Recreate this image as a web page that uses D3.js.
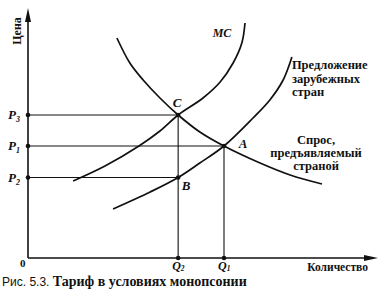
<!DOCTYPE html>
<html><head><meta charset="utf-8">
<script src="https://cdn.jsdelivr.net/npm/d3@7"></script>
<style>
html,body{margin:0;padding:0;background:#fff;}
svg{display:block;}
</style></head>
<body>
<svg id="chart" width="380" height="293"></svg>
<script>
// ---- data (abstract units: quantity on x, price on y) ----
const mcCurve = [[1.29,3.08],[2.2,3.68],[3.17,4.48],[3.77,5.08],[4.29,5.72],[5.0,6.4],[5.49,7.04],[5.86,7.8],[6.11,8.6],[6.2,9.4]];
const foreignSupply = [[2.43,1.96],[3.49,2.64],[4.29,3.22],[4.91,3.8],[5.6,4.48],[6.43,5.6],[6.91,6.32],[7.29,7.12],[7.54,8.04]];
const domesticDemand = [[2.54,8.8],[2.91,7.8],[3.29,7.12],[3.77,6.4],[4.29,5.72],[4.91,5.04],[5.6,4.48],[6.63,3.8],[7.49,3.32],[8.4,2.96]];
const priceLevels = [{label:"P",sub:"3",p:5.72},{label:"P",sub:"1",p:4.48},{label:"P",sub:"2",p:3.22}];
const quantityLevels = [{label:"Q",sub:"2",q:4.29},{label:"Q",sub:"1",q:5.6}];
const keyPoints = [{name:"C",q:4.29,p:5.72},{name:"A",q:5.6,p:4.48},{name:"B",q:4.29,p:3.22}];
const axisTitles = {y:"Цена", x:"Количество"};
const curveLabels = {mc:"MC", supply:["Предложение","зарубежных","стран"], demand:["Спрос,","предъявляемый","страной"]};
const captionParts = ["Рис. 5.3. ","Тариф в условиях монопсонии"];

// ---- layout ----
const svg = d3.select("#chart");
const x = d3.scaleLinear().domain([0,10]).range([28,378]);
const y = d3.scaleLinear().domain([0,10]).range([258,8]);
const ink = "#111";
const serif = "Liberation Serif";

svg.append("rect").attr("width",380).attr("height",293).attr("fill","#fff");

// axes
svg.append("line").attr("x1",x(0)).attr("y1",y(0)).attr("x2",x(0)).attr("y2",y(0)-240)
  .attr("stroke",ink).attr("stroke-width",1.6);
svg.append("line").attr("x1",x(0)).attr("y1",y(0)).attr("x2",x(0)+340).attr("y2",y(0))
  .attr("stroke",ink).attr("stroke-width",1.6);
const ax = x(0), ay = y(0);
svg.append("path").attr("d",`M${ax},${ay-250} L${ax-3},${ay-236} L${ax+3},${ay-236} Z`).attr("fill",ink);
svg.append("path").attr("d",`M${ax+350},${ay} L${ax+336},${ay-3} L${ax+336},${ay+3} Z`).attr("fill",ink);

// guide lines
priceLevels.forEach(d=>{
  const kp = keyPoints.find(k=>k.p===d.p);
  svg.append("line").attr("x1",x(0)).attr("x2",x(kp.q)).attr("y1",y(d.p)).attr("y2",y(d.p))
    .attr("stroke",ink).attr("stroke-width",1.1);
});
quantityLevels.forEach(d=>{
  const top = d3.max(keyPoints.filter(k=>k.q===d.q), k=>k.p);
  svg.append("line").attr("x1",x(d.q)).attr("x2",x(d.q)).attr("y1",y(0)).attr("y2",y(top))
    .attr("stroke",ink).attr("stroke-width",1.1);
});

// curves
const line = d3.line().x(d=>x(d[0])).y(d=>y(d[1])).curve(d3.curveCatmullRom.alpha(0.5));
[mcCurve, foreignSupply, domesticDemand].forEach(c=>{
  svg.append("path").attr("d",line(c)).attr("fill","none").attr("stroke",ink).attr("stroke-width",1.7);
});

// dots
const dots = [];
priceLevels.forEach(d=>dots.push([0,d.p]));
quantityLevels.forEach(d=>dots.push([d.q,0]));
keyPoints.forEach(d=>dots.push([d.q,d.p]));
svg.selectAll("circle.dot").data(dots).enter().append("circle")
  .attr("cx",d=>x(d[0])).attr("cy",d=>y(d[1])).attr("r",2.3).attr("fill",ink);

function txt(){ return svg.append("text").attr("font-family",serif).attr("fill",ink); }

// price labels
priceLevels.forEach(d=>{
  const t = txt().attr("x",x(0)-20).attr("y",y(d.p)+4)
    .attr("font-size",13).attr("font-style","italic").attr("font-weight","bold");
  t.append("tspan").text(d.label);
  t.append("tspan").attr("font-size",8).attr("dy",3).text(d.sub);
});
quantityLevels.forEach(d=>{
  const t = txt().attr("x",x(d.q)-6).attr("y",y(0)+12)
    .attr("font-size",12).attr("font-style","italic").attr("font-weight","bold");
  t.append("tspan").text(d.label);
  t.append("tspan").attr("font-size",7.5).attr("dy",1).text(d.sub);
});
txt().attr("x",x(0)-8).attr("y",y(0)+9).attr("font-size",11).attr("font-weight","bold").text("0");

// key point labels
const kpOff = {C:[-1,-8],A:[19,2],B:[8,12]};
keyPoints.forEach(d=>{
  txt().attr("x",x(d.q)+kpOff[d.name][0]).attr("y",y(d.p)+kpOff[d.name][1])
    .attr("text-anchor","middle").attr("font-size",13).attr("font-style","italic").attr("font-weight","bold")
    .text(d.name);
});

// axis titles
txt().attr("transform",`translate(${x(0)-7},31) rotate(-90)`).attr("text-anchor","middle")
  .attr("font-size",12).attr("font-weight","bold").text(axisTitles.y);
txt().attr("x",368).attr("y",271).attr("text-anchor","end")
  .attr("font-size",11.5).attr("font-weight","bold").text(axisTitles.x);

// curve labels
const mcTop = mcCurve[mcCurve.length-1];
txt().attr("x",x(mcTop[0])-23).attr("y",y(mcTop[1])+14).attr("text-anchor","middle")
  .attr("font-size",12).attr("font-style","italic").attr("font-weight","bold").text(curveLabels.mc);
const sTop = foreignSupply[foreignSupply.length-1];
curveLabels.supply.forEach((s,i)=>{
  txt().attr("x",x(sTop[0])).attr("y",y(sTop[1])+12+i*13.5)
    .attr("font-size",12.5).attr("font-weight","bold").text(s);
});
curveLabels.demand.forEach((s,i)=>{
  txt().attr("x",316).attr("y",144+i*13).attr("text-anchor","middle")
    .attr("font-size",12.5).attr("font-weight","bold").text(s);
});

// caption
const cap = txt().attr("x",2).attr("y",286).attr("font-size",14);
cap.append("tspan").attr("font-family","Liberation Sans").attr("font-size",12).text(captionParts[0]);
cap.append("tspan").attr("font-weight","bold").text(captionParts[1]);
</script>
</body></html>
